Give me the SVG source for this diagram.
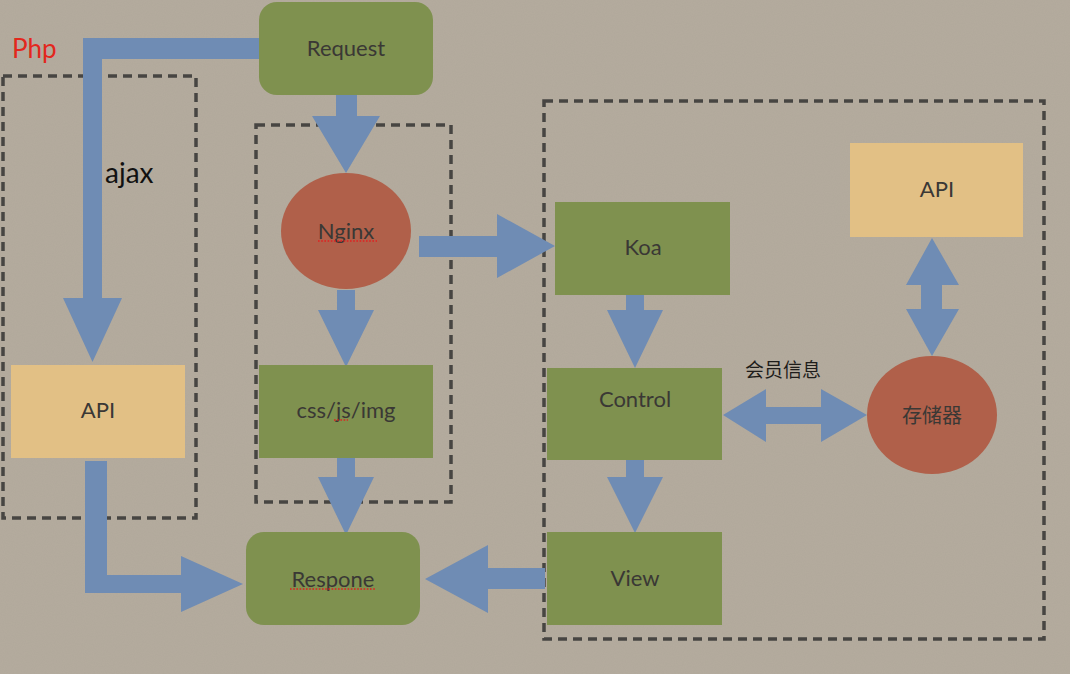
<svg xmlns="http://www.w3.org/2000/svg" width="1070" height="674" viewBox="0 0 1070 674">
<defs>
<filter id="noise" x="0" y="0" width="100%" height="100%">
<feTurbulence type="fractalNoise" baseFrequency="0.9" numOctaves="2" seed="3" result="n"/>
<feColorMatrix type="matrix" values="0 0 0 0 0.2  0 0 0 0 0.2  0 0 0 0 0.2  0 0 0 0.08 0" />
</filter>
<style>
.bg{fill:#b5ac9e}
.green{fill:#7f914f}
.yellow{fill:#e2c085}
.red{fill:#b0604a}
.arrow{fill:#6f8cb4}
.dash{fill:none;stroke:#474542;stroke-width:3.5;stroke-dasharray:9 6}
.lbl{font-family:Lato,"Noto Sans","Noto Sans CJK SC",sans-serif;font-size:22px;fill:#3a3835;text-anchor:middle}
.cjk{font-family:"Noto Sans CJK SC",sans-serif;font-size:19px;fill:#1e1d1b}
.spell{stroke:#e02020;stroke-width:1.6;stroke-dasharray:1.6 1.6;fill:none}
</style>
</defs>
<rect class="bg" x="0" y="0" width="1070" height="674"/>
<rect x="0" y="0" width="1070" height="674" filter="url(#noise)"/>

<g id="groups">
<rect class="dash" x="3" y="76" width="193" height="442"/>
<rect class="dash" x="256" y="125" width="195" height="377"/>
<rect class="dash" x="544" y="101" width="500" height="538"/>
</g>

<g id="connectors">
<polygon class="arrow" points="259,38 83,38 83,298 63,298 92.5,362 122,298 102,298 102,59 259,59"/>
<polygon class="arrow" points="336,95 357,95 357,116 380,116 346,173 312,116 336,116"/>
<polygon class="arrow" points="337,290 355,290 355,310 374,310 346,367 318,310 337,310"/>
<polygon class="arrow" points="337,458 355,458 355,477 374,477 346,535 318,477 337,477"/>
<polygon class="arrow" points="85,461 107,461 107,575 181,575 181,556 243,584 181,612 181,593 85,593"/>
<polygon class="arrow" points="419,236 497,236 497,214 555,246 497,278 497,257 419,257"/>
<polygon class="arrow" points="626,292 644,292 644,310 663,310 635,368 607,310 626,310"/>
<polygon class="arrow" points="626,458 644,458 644,477 663,477 635,533 607,477 626,477"/>
<polygon class="arrow" points="545,568 545,589 488,589 488,613 425,579 488,545 488,568"/>
<polygon class="arrow" points="723,415 766,389 766,407 821,407 821,389 867,415 821,442 821,424 766,424 766,442"/>
<polygon class="arrow" points="932,238 959,285 942,285 942,309 959,309 932,356 906,309 921,309 921,285 906,285"/>
</g>

<g id="request">
<rect class="green" x="259" y="2" width="174" height="93" rx="18"/>
<text class="lbl" x="346" y="56">Request</text>
</g>
<g id="nginx">
<ellipse class="red" cx="346" cy="231" rx="65" ry="58"/>
<text class="lbl" x="346" y="239">Nginx</text>
<line class="spell" x1="318" y1="241" x2="377" y2="241"/>
</g>
<g id="cssjsimg">
<rect class="green" x="259" y="365" width="174" height="93"/>
<text class="lbl" x="346" y="418">css/js/img</text>
<line class="spell" x1="334" y1="420" x2="348" y2="420"/>
</g>
<g id="respone">
<rect class="green" x="246" y="532" width="174" height="93" rx="18"/>
<text class="lbl" x="333" y="587">Respone</text>
<line class="spell" x1="290" y1="589" x2="376" y2="589"/>
</g>
<g id="api-left">
<rect class="yellow" x="11" y="365" width="174" height="93"/>
<text class="lbl" x="98" y="418">API</text>
</g>
<g id="koa">
<rect class="green" x="555" y="202" width="175" height="93"/>
<text class="lbl" x="643" y="255">Koa</text>
</g>
<g id="control">
<rect class="green" x="547" y="368" width="175" height="92"/>
<text class="lbl" x="635" y="407">Control</text>
</g>
<g id="view">
<rect class="green" x="547" y="532" width="175" height="93"/>
<text class="lbl" x="635" y="586">View</text>
</g>
<g id="api-right">
<rect class="yellow" x="850" y="143" width="173" height="94"/>
<text class="lbl" x="937" y="197">API</text>
</g>
<g id="storage">
<ellipse class="red" cx="932" cy="415" rx="65" ry="59"/>
<text class="lbl" x="932" y="423" style="font-family:'Noto Sans CJK SC',sans-serif;font-size:20px">存储器</text>
</g>

<g id="labels">
<text x="12" y="58" style="font-family:Lato,'Noto Sans',sans-serif;font-size:26px;fill:#e3271d">Php</text>
<text x="105" y="183" style="font-family:Lato,'Noto Sans',sans-serif;font-size:28px;fill:#111">ajax</text>
<text class="cjk" x="745" y="377">会员信息</text>
</g>
</svg>
